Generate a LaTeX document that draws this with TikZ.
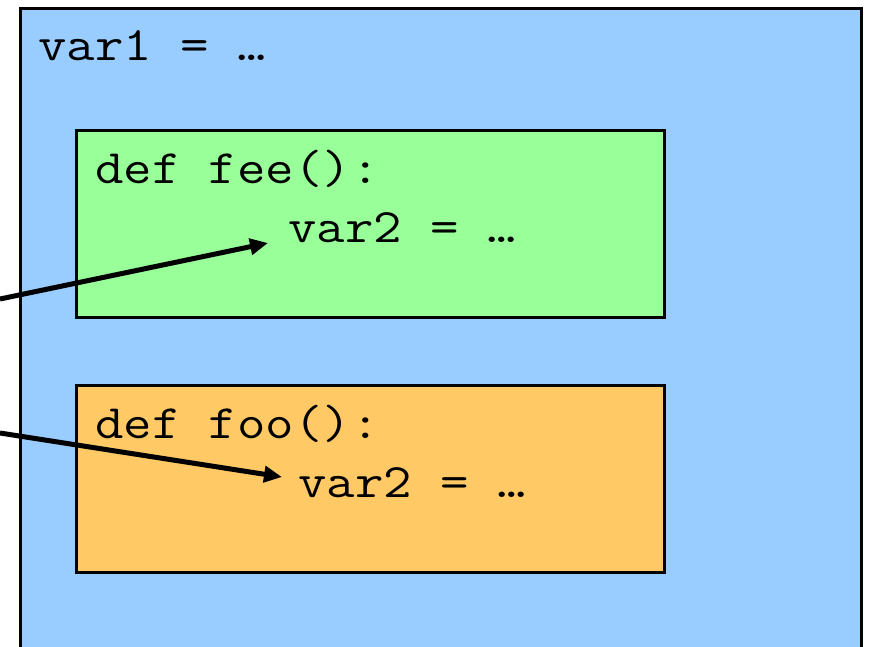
\documentclass[tikz,border=0pt]{standalone}
\usepackage{fontspec}
\newfontfamily\codefont{Latin Modern Mono}[FakeStretch=1.15]
\usetikzlibrary{arrows.meta}
\definecolor{outerblue}{HTML}{99CCFF}
\definecolor{feegreen}{HTML}{99FF99}
\definecolor{fooorange}{HTML}{FFC966}
\tikzset{
  codebox/.style={draw=black, line width=2.5pt, anchor=north west, inner sep=0pt},
  codetext/.style={anchor=base west, inner sep=0pt, font=\codefont\fontsize{48}{56}\selectfont},
  ref/.style={line width=5pt, -{Triangle[length=18pt,width=16pt]}}
}
\begin{document}
\begin{tikzpicture}[x=1pt,y=-1pt]
\useasboundingbox (0,0) rectangle (869,646);
\clip (0,0) rectangle (869,646);
\node[codebox, fill=outerblue, minimum width=841pt, minimum height=720pt] (outer) at (19,7) {};
\node[codebox, fill=feegreen, minimum width=588pt, minimum height=187pt] (fee) at (75,129) {};
\node[codebox, fill=fooorange, minimum width=588pt, minimum height=187pt] (foo) at (75,384) {};
\node[codetext] (v1) at (38,60) {var1 = …};
\node[codetext] (deffee) at (95,183) {def fee():};
\node[codetext] (v2a) at (288,242) {var2 = …};
\node[codetext] (deffoo) at (95,438) {def foo():};
\node[codetext] (v2b) at (298,497) {var2 = …};
\coordinate (s1) at (0,299);
\coordinate (s2) at (0,433);
\draw[ref] (s1) -- ([xshift=-20pt,yshift=-1pt]v2a.base west);
\draw[ref] (s2) -- ([xshift=-16pt,yshift=20pt]v2b.base west);
\end{tikzpicture}
\end{document}
